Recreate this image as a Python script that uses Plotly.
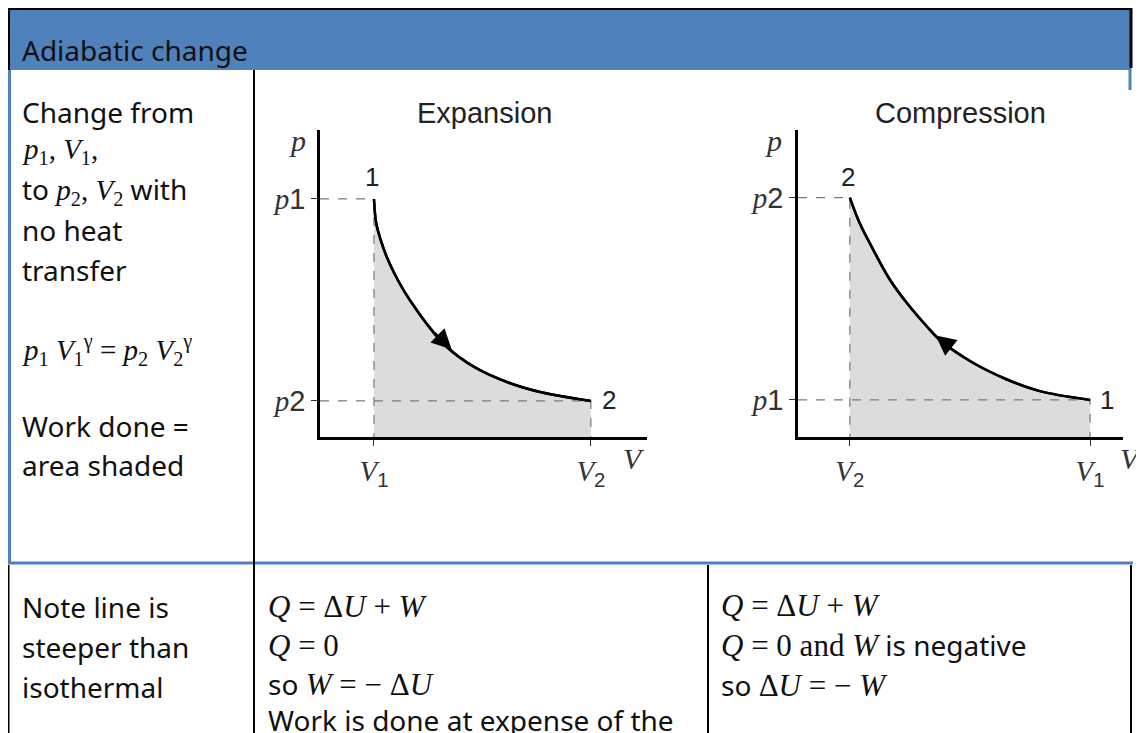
import plotly.graph_objects as go

# the page has an 8px body margin, so the figure is a bit smaller than the window
OFF = 8
W, H = 1144 - OFF, 733 - OFF
BLUE = "#4f81bd"
BODY = "Noto Sans"
SERIF = "Liberation Serif"
SANS = "Liberation Sans"

# Expansion curve (V in units of V1, p in units of p2)
exp_v = [1.0, 1.04, 1.12, 1.23, 1.37, 1.54, 1.75, 1.96, 2.33, 2.88, 3.5, 4.12, 5.02]
exp_p = [6.8, 6.12, 5.65, 5.17, 4.70, 4.22, 3.72, 3.27, 2.6, 1.98, 1.55, 1.27, 1.03]
exp_arrow_v = [2.1, 2.44]
exp_arrow_p = [3.02, 2.5]

# Compression curve
cmp_v = [0.96, 1.14, 1.39, 1.70, 2.01, 2.38, 2.65, 3.24, 3.86, 4.48, 5.41]
cmp_p = [6.84, 6.12, 5.36, 4.50, 3.84, 3.17, 2.74, 2.12, 1.65, 1.31, 1.06]
cmp_arrow_v = [2.87, 2.55]
cmp_arrow_p = [2.51, 2.9]

SUBV = "<sub><span style='font-family:Liberation Sans'>{}</span></sub>"
SUBP = "<span style='font-family:Liberation Sans'>{}</span>"
exp_vlabels = ["<i>V</i>" + SUBV.format(1), "<i>V</i>" + SUBV.format(2)]
exp_plabels = ["<i>p</i>" + SUBP.format(2), "<i>p</i>" + SUBP.format(1)]
cmp_vlabels = ["<i>V</i>" + SUBV.format(2), "<i>V</i>" + SUBV.format(1)]
cmp_plabels = ["<i>p</i>" + SUBP.format(1), "<i>p</i>" + SUBP.format(2)]


def px(x):
    return (x - OFF) / W


def py(y):
    return 1 - (y - OFF) / H


fig = go.Figure()


def add_diagram(xa, ya, vs, ps, arrow_v, arrow_p, vlabels, plabels):
    xr, yr = xa.replace("axis", ""), ya.replace("axis", "")
    # shaded area under the curve
    fig.add_trace(go.Scatter(x=vs, y=ps, mode="lines", fill="tozeroy",
                             fillcolor="#dcdcdc", line=dict(color="black", width=2.5, shape="spline"),
                             xaxis=xr, yaxis=yr, hoverinfo="skip"))
    # dashed guide lines
    for v, p in [(vs[0], ps[0]), (vs[-1], ps[-1])]:
        fig.add_trace(go.Scatter(x=[0, v, v], y=[p, p, 0], mode="lines",
                                 line=dict(color="#7a7a7a", width=1.2, dash="dash"),
                                 xaxis=xr, yaxis=yr, hoverinfo="skip"))
    fig.add_trace(go.Scatter(x=vs, y=ps, mode="lines",
                             line=dict(color="black", width=2.5, shape="spline"),
                             xaxis=xr, yaxis=yr, hoverinfo="skip"))
    fig.add_annotation(x=arrow_v[1], y=arrow_p[1], ax=arrow_v[0], ay=arrow_p[0],
                       xref=xr, yref=yr, axref=xr, ayref=yr, text="",
                       showarrow=True, arrowhead=2, arrowsize=2, arrowwidth=2,
                       arrowcolor="black")
    fig.layout[xa].update(tickvals=[vs[0], vs[-1]], ticktext=vlabels)
    fig.layout[ya].update(tickvals=[ps[-1], ps[0]], ticktext=plabels)


axis_common = dict(showgrid=False, zeroline=False, showline=True, linecolor="black",
                   linewidth=2.5, ticks="outside", ticklen=6, tickcolor="#333",
                   tickfont=dict(family=SERIF, size=29, color="#333"))

fig.update_layout(
    width=W, height=H, margin=dict(l=0, r=0, t=0, b=0),
    paper_bgcolor="white", plot_bgcolor="white", showlegend=False,
    xaxis=dict(domain=[px(320), px(647)], range=[0, 6.06], anchor="y", **axis_common),
    yaxis=dict(domain=[py(437), py(130)], range=[0, 8.77], anchor="x", **axis_common),
    xaxis2=dict(domain=[px(798), px(1123)], range=[0, 6.02], anchor="y2", **axis_common),
    yaxis2=dict(domain=[py(437), py(130)], range=[0, 8.77], anchor="x2", **axis_common),
)

add_diagram("xaxis", "yaxis", exp_v, exp_p, exp_arrow_v, exp_arrow_p, exp_vlabels, exp_plabels)
add_diagram("xaxis2", "yaxis2", cmp_v, cmp_p, cmp_arrow_v, cmp_arrow_p, cmp_vlabels, cmp_plabels)


# table frame
def line(x0, y0, x1, y1, color="black", width=2):
    fig.add_shape(type="line", xref="paper", yref="paper",
                  x0=px(x0), y0=py(y0), x1=px(x1), y1=py(y1),
                  line=dict(color=color, width=width))


fig.add_shape(type="rect", xref="paper", yref="paper", x0=px(8), x1=px(1131),
              y0=py(70), y1=py(8), fillcolor=BLUE, line_width=0, layer="below")
line(7, 8.5, 1132, 8.5, width=3)
line(8.5, 7, 8.5, 70, width=3)
line(1131, 7, 1131, 68, width=3)
line(9.5, 70, 9.5, 564, color=BLUE, width=3)
line(1130, 68, 1130, 90, color=BLUE, width=3)
line(8, 563, 1133, 563, color=BLUE, width=3)
line(254, 70, 254, 733)
line(8.5, 565, 8.5, 733)
line(708, 565, 708, 733)
line(1131, 565, 1131, 733)


def txt(x, y, s, size=28, family=BODY, anchor="left", color="#111"):
    fig.add_annotation(x=px(x), y=py(y), xref="paper", yref="paper", text=s,
                       showarrow=False, xanchor=anchor, yanchor="middle",
                       font=dict(size=size, family=family, color=color))


def m(s, size=29):
    return "<span style='font-family:Liberation Serif;font-size:%dpx'>%s</span>" % (size, s)


txt(20, 50, "Adiabatic change")
txt(20, 112, "Change from")
txt(20, 151, m("<i>p</i><sub>1</sub>, <i>V</i><sub>1</sub>,"))
txt(20, 190, "to " + m("<i>p</i><sub>2</sub>, <i>V</i><sub>2</sub>") + " with")
txt(20, 230, "no heat")
txt(20, 270, "transfer")
txt(20, 350, m("<i>p</i><sub>1</sub> <i>V</i><sub>1</sub><sup>γ</sup> = <i>p</i><sub>2</sub> <i>V</i><sub>2</sub><sup>γ</sup>"))
txt(20, 426, "Work done =")
txt(20, 465, "area shaded")

txt(20, 607, "Note line is")
txt(20, 647, "steeper than")
txt(20, 687, "isothermal")

txt(266, 606, m("<i>Q</i> = Δ<i>U</i> + <i>W</i>", 31))
txt(266, 645, m("<i>Q</i> = 0", 31))
txt(266, 684, "so " + m("<i>W</i> = − Δ<i>U</i>", 31))
txt(266, 720, "Work is done at expense of the")

txt(719, 605, m("<i>Q</i> = Δ<i>U</i> + <i>W</i>", 31))
txt(719, 645, m("<i>Q</i> = 0 and <i>W</i>", 31) + " is negative")
txt(719, 685, "so " + m("Δ<i>U</i> = − <i>W</i>", 31))

# diagram titles and labels
txt(484, 113, "Expansion", size=29, family=SANS, anchor="center", color="#222")
txt(960, 113, "Compression", size=29, family=SANS, anchor="center", color="#222")
txt(297, 140, "<i>p</i>", size=30, family=SERIF, anchor="center", color="#333")
txt(773, 140, "<i>p</i>", size=30, family=SERIF, anchor="center", color="#333")
txt(634, 458, "<i>V</i>", size=30, family=SERIF, anchor="center", color="#333")
txt(1118, 458, "<i>V</i>", size=30, family=SERIF, anchor="left", color="#333")
txt(372, 177, "1", size=26, family=SANS, anchor="center", color="#222")
txt(609, 400, "2", size=26, family=SANS, anchor="center", color="#222")
txt(848, 177, "2", size=26, family=SANS, anchor="center", color="#222")
txt(1107, 400, "1", size=26, family=SANS, anchor="center", color="#222")

fig.write_html("out.html")
